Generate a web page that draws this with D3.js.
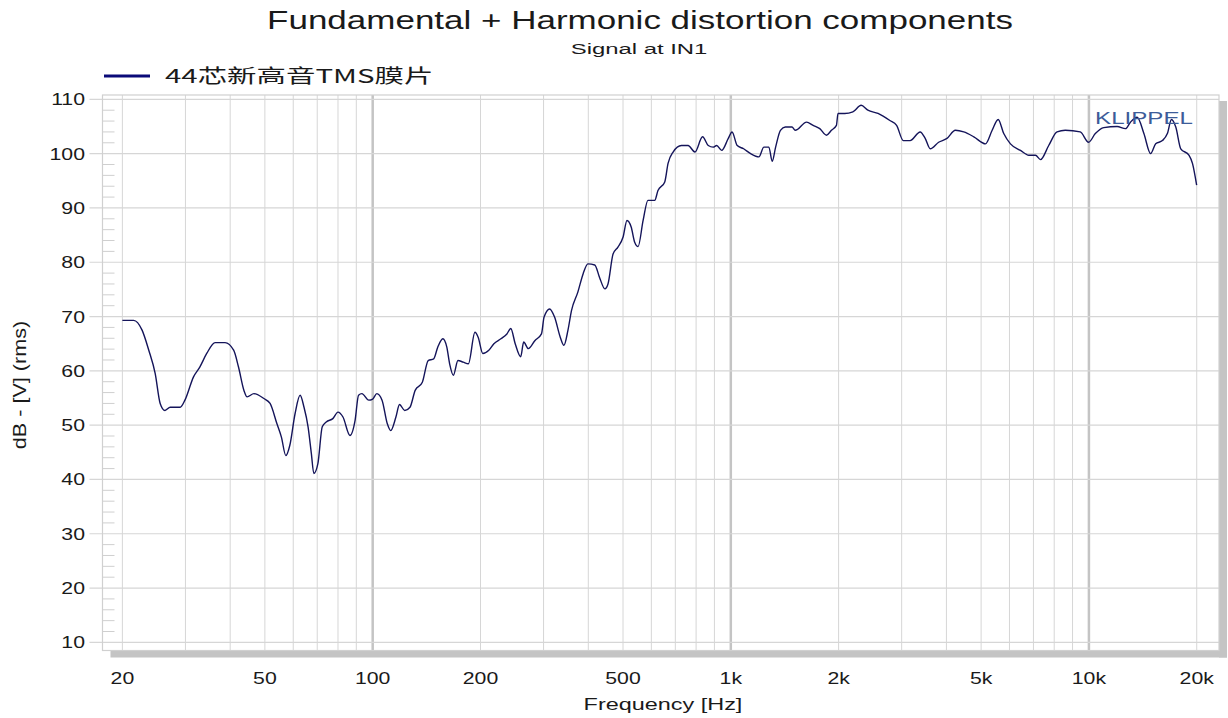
<!DOCTYPE html>
<html>
<head>
<meta charset="utf-8">
<script src="https://cdn.jsdelivr.net/npm/d3@7"></script>
<style>
  body { margin: 0; background: #fff; }
  svg { display: block; font-family: "Liberation Sans", Arial, sans-serif; }
</style>
</head>
<body>
<div id="chart"></div>
<script>
// frequency response
var freqs = [20, 21.5, 22.7, 23.7, 24.7, 25.5, 26.3, 27.2, 29.0, 29.9, 31.6, 32.9, 34.4, 36.3, 38.7, 40.9, 42.2, 43.7, 44.6, 46.6,
  49.7, 51.7, 54.0, 55.6, 57.2, 58.7, 60.7, 62.7, 64.3, 66.0, 67.4, 68.5, 70.3, 72.3, 74.2, 77.4, 80.0, 82.6, 86.4, 89.3,
  91.3, 93.3, 97.5, 100, 102.7, 106.2, 109.8, 112.3, 116.1, 118.8, 122.9, 127.1, 131.4, 137.6, 142.9, 148, 152, 157, 161, 164,
  168, 173, 179, 185, 193, 197, 203, 211, 218, 228, 237, 243, 250, 259, 264, 272, 284, 296, 301, 312,
  322, 334, 342, 351, 359, 374, 387, 399, 417, 430, 445, 454, 469, 484, 500, 513, 527, 539, 551, 569,
  587, 613, 626, 654, 668, 690, 728, 760, 794, 834, 865, 893, 913, 943, 984, 1008, 1042, 1086, 1136, 1198,
  1237, 1277, 1305, 1334, 1376, 1420, 1482, 1513, 1628, 1698, 1772, 1850, 1910, 1972, 1992, 2080, 2192, 2312, 2414, 2577,
  2781, 2904, 3032, 3167, 3379, 3490, 3605, 3805, 4015, 4237, 4471, 4771, 5142, 5368, 5579, 5783, 6038, 6440, 6795, 7093,
  7324, 7722, 8148, 8590, 9458, 9979, 10420, 11000, 11990, 12650, 13060, 13640, 14240, 14870, 15360, 16040, 16560, 17000, 17480, 18050,
  19040, 19460, 19990];
var levels = [69.3, 69.3, 67.5, 63.8, 59.5, 54.0, 52.7, 53.3, 53.3, 54.6, 58.9, 60.7, 63.2, 65.2, 65.2, 63.8, 60.7, 56.4, 55.2, 55.8,
  54.9, 54.0, 50.3, 47.8, 44.4, 46.3, 52.1, 55.5, 53.3, 49.7, 44.8, 41.1, 42.9, 49.7, 50.6, 51.2, 52.4, 51.5, 48.1, 50.9,
  55.5, 55.8, 54.6, 54.8, 55.8, 54.6, 50.3, 49.0, 51.5, 53.8, 52.7, 53.3, 56.4, 57.9, 61.9, 62.2, 64.4, 65.9, 64.4, 61.3,
  59.2, 61.9, 61.6, 61.3, 67.1, 66.2, 63.2, 63.8, 65.0, 65.9, 66.8, 67.8, 65.0, 62.6, 65.3, 64.1, 65.6, 66.8, 69.9, 71.4,
  69.9, 66.2, 64.7, 67.5, 71.1, 74.5, 77.9, 79.7, 79.5, 77.2, 75.1, 76.0, 81.5, 82.8, 84.6, 87.7, 86.5, 83.7, 82.9, 87.7,
  91.4, 91.4, 93.2, 94.8, 98.2, 100.3, 101.5, 101.5, 100.3, 103.1, 101.5, 101.2, 101.5, 100.6, 102.8, 104.0, 101.5, 100.9, 100.0, 99.4,
  101.2, 101.2, 98.6, 101.2, 104.3, 104.9, 104.9, 104.3, 105.8, 105.2, 104.6, 103.4, 104.3, 105.2, 107.4, 107.4, 107.7, 108.9, 108.0, 107.4,
  106.1, 105.2, 102.4, 102.4, 104.0, 102.8, 100.9, 102.1, 102.8, 104.3, 104.0, 103.1, 101.8, 104.3, 106.3, 103.7, 101.8, 100.6, 99.7, 99.7,
  98.9, 101.5, 104.0, 104.3, 104.0, 102.1, 103.7, 104.8, 105.0, 104.6, 105.8, 106.7, 103.7, 100.0, 101.8, 102.4, 103.7, 106.3, 104.9, 100.9,
  99.7, 98.2, 94.2];

var xTickValues = [20, 50, 100, 200, 500, 1000, 2000, 5000, 10000, 20000];
var xTickLabels = ['20', '50', '100', '200', '500', '1k', '2k', '5k', '10k', '20k'];
var xGridValues = [20, 30, 40, 50, 60, 70, 80, 90, 100, 200, 300, 400, 500, 600, 700, 800, 900, 1000,
  2000, 3000, 4000, 5000, 6000, 7000, 8000, 9000, 10000, 20000];
var xDecades = [100, 1000, 10000];
var yTickValues = [10, 20, 30, 40, 50, 60, 70, 80, 90, 100, 110];

var seriesName = '44芯新高音TMS膜片';

var width = 1228, height = 718;
// plot box (do not call these top/left: window.top is read-only)
var plotL = 102.5, plotR = 1219, plotT = 95, plotB = 650.5;

var svg = d3.select('#chart').append('svg')
  .attr('width', width)
  .attr('height', height);

var x = d3.scaleLog().domain([17.6, 23080]).range([plotL, plotR]);
var y = d3.scaleLinear().domain([8.5, 110.8]).range([plotB, plotT]);

// the reference text is drawn wide, so stretch it horizontally
function label (g, tx, ty, str, size, anchor, sx) {
  return g.append('text')
    .attr('transform', 'translate(' + tx + ',' + ty + ') scale(' + sx + ',1)')
    .attr('text-anchor', anchor)
    .attr('font-size', size)
    .attr('fill', '#1a1a1a')
    .text(str);
}

// shadow of the plot frame
svg.append('rect')
  .attr('x', plotR).attr('y', plotT + 6)
  .attr('width', 8).attr('height', plotB - plotT + 1)
  .attr('fill', '#c4c4c4');
svg.append('rect')
  .attr('x', plotL + 8).attr('y', plotB)
  .attr('width', plotR - plotL)
  .attr('height', 7)
  .attr('fill', '#c4c4c4');

svg.append('rect')
  .attr('x', plotL).attr('y', plotT)
  .attr('width', plotR - plotL).attr('height', plotB - plotT)
  .attr('fill', '#fff');

var grid = svg.append('g');

// vertical grid
grid.selectAll('.vgrid')
  .data(xGridValues)
  .enter().append('line')
  .attr('x1', function (d) { return x(d); })
  .attr('x2', function (d) { return x(d); })
  .attr('y1', plotT).attr('y2', plotB)
  .attr('stroke', function (d) { return xDecades.indexOf(d) >= 0 ? '#c4c4c4' : '#d6d6d6'; })
  .attr('stroke-width', function (d) { return xDecades.indexOf(d) >= 0 ? 2.5 : 1; });

// horizontal grid, running out past the left frame as ticks
grid.selectAll('.hgrid')
  .data(yTickValues)
  .enter().append('line')
  .attr('x1', plotL - 13).attr('x2', plotR)
  .attr('y1', function (d) { return y(d); })
  .attr('y2', function (d) { return y(d); })
  .attr('stroke', '#d6d6d6')
  .attr('stroke-width', 1.2);

// minor ticks every 2 dB inside the left frame
var minor = d3.range(10, 111, 2).filter(function (d) { return d % 10 !== 0; });
grid.selectAll('.minor')
  .data(minor)
  .enter().append('line')
  .attr('x1', plotL).attr('x2', plotL + 12)
  .attr('y1', function (d) { return y(d); })
  .attr('y2', function (d) { return y(d); })
  .attr('stroke', '#cfcfcf');

// frame
svg.append('rect')
  .attr('x', plotL).attr('y', plotT)
  .attr('width', plotR - plotL).attr('height', plotB - plotT)
  .attr('fill', 'none')
  .attr('stroke', '#d0d0d0')
  .attr('stroke-width', 1.2);

// curve
var points = freqs.map(function (f, i) { return [f, levels[i]]; });
var line = d3.line()
  .x(function (d) { return x(d[0]); })
  .y(function (d) { return y(d[1]); })
  .curve(d3.curveMonotoneX);

svg.append('path')
  .datum(points)
  .attr('d', line)
  .attr('fill', 'none')
  .attr('stroke', '#14145a')
  .attr('stroke-width', 1.4);

// KLIPPEL mark
label(svg, 1144, 124, 'KLIPPEL', 17, 'middle', 1.42).attr('fill', '#3d5c99');

// tick labels
var axisG = svg.append('g');
xTickValues.forEach(function (d, i) {
  label(axisG, x(d), 684, xTickLabels[i], 17, 'middle', 1.25);
});
yTickValues.forEach(function (d) {
  label(axisG, 85, y(d) + 6, String(d), 17, 'end', 1.25);
});

// titles
label(svg, 640, 29, 'Fundamental + Harmonic distortion components', 25, 'middle', 1.4);
label(svg, 639, 54, 'Signal at IN1', 15.5, 'middle', 1.54);
label(svg, 663, 710, 'Frequency [Hz]', 16.5, 'middle', 1.42);

svg.append('text')
  .attr('transform', 'translate(26,385) rotate(-90) scale(1.2,1)')
  .attr('text-anchor', 'middle')
  .attr('font-size', 18)
  .attr('fill', '#1a1a1a')
  .text('dB - [V] (rms)');

// legend
svg.append('line')
  .attr('x1', 104).attr('x2', 150)
  .attr('y1', 76).attr('y2', 76)
  .attr('stroke', '#0a0a78')
  .attr('stroke-width', 3);
svg.append('text')
  .attr('transform', 'translate(165,83) scale(1.55,1)')
  .attr('font-size', 19)
  .attr('font-family', '"Noto Sans CJK SC", "Liberation Sans", sans-serif')
  .attr('fill', '#1a1a1a')
  .text(seriesName);
</script>
</body>
</html>
